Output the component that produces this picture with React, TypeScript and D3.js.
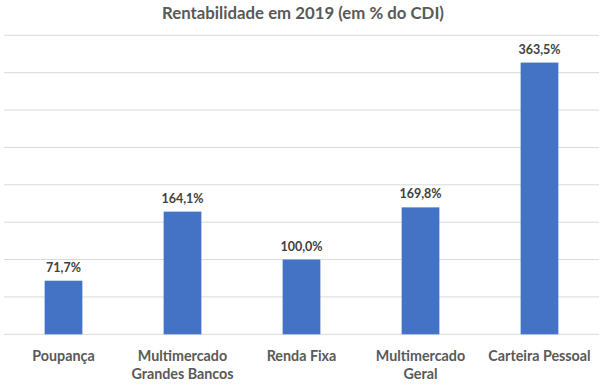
import React from 'react';
import * as d3 from 'd3';

const categories: string[][] = [
  ['Poupança'],
  ['Multimercado', 'Grandes Bancos'],
  ['Renda Fixa'],
  ['Multimercado', 'Geral'],
  ['Carteira Pessoal'],
];
const values: number[] = [71.7, 164.1, 100.0, 169.8, 363.5];
const yTicks: number[] = [0, 50, 100, 150, 200, 250, 300, 350, 400];

const W = 603, H = 386;
const FONT = 'Lato, "Open Sans", sans-serif';

const App: React.FC = () => {
  const x = d3.scaleBand<number>()
    .domain(values.map((_, i) => i))
    .range([4, 599])
    .paddingInner(0.683)
    .paddingOuter(0.3415);
  const y = d3.scaleLinear().domain([0, 400]).range([334.3, 35.3]);
  const fmt = (v: number) => v.toFixed(1).replace('.', ',') + '%';

  return (
    <svg width={W} height={H} style={{ position: 'fixed', left: 0, top: 0, background: '#fff' }}>
      {/* Title */}
      <text x={303} y={19} textAnchor="middle" fontFamily={FONT} fontWeight={700}
            fontSize={16.8} fill="#595959">
        Rentabilidade em 2019 (em % do CDI)
      </text>

      {/* Gridlines */}
      {yTicks.map((t) => (
        <line key={t} x1={4} x2={599} y1={y(t)} y2={y(t)} stroke="#d9d9d9" strokeWidth={1} />
      ))}

      {/* Bars + labels */}
      {values.map((v, i) => (
        <g key={i}>
          <rect x={x(i)} y={y(v)} width={x.bandwidth()} height={y(0) - y(v)} fill="#4472C4" />
          <text x={x(i)! + x.bandwidth() / 2} y={y(v) - 9} textAnchor="middle"
                fontFamily={FONT} fontWeight={700} fontSize={12.5} fill="#404040">
            {fmt(v)}
          </text>
        </g>
      ))}

      {/* Category labels */}
      {categories.map((lines, i) => (
        <text key={i} x={x(i)! + x.bandwidth() / 2} y={360.5} textAnchor="middle"
              fontFamily={FONT} fontWeight={700} fontSize={14.3} fill="#595959">
          {lines.map((l, j) => (
            <tspan key={j} x={x(i)! + x.bandwidth() / 2} dy={j === 0 ? 0 : 18}>{l}</tspan>
          ))}
        </text>
      ))}
    </svg>
  );
};

export default App;
